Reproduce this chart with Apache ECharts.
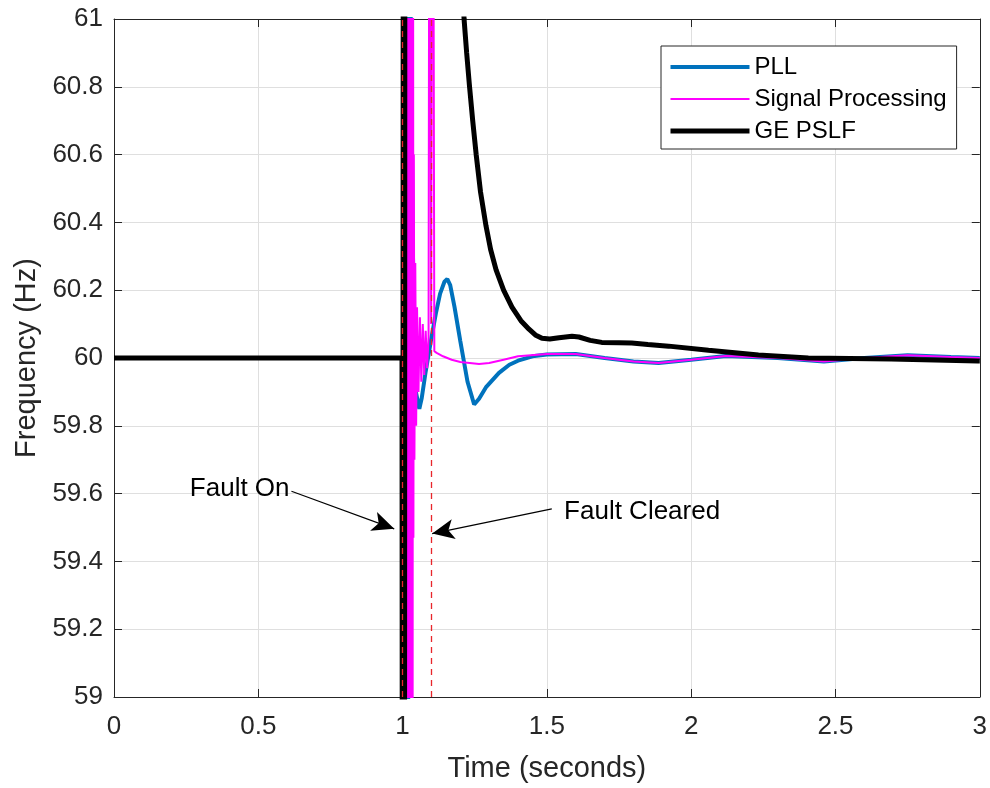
<!DOCTYPE html>
<html>
<head>
<meta charset="utf-8">
<script src="https://cdn.jsdelivr.net/npm/echarts@6/dist/echarts.min.js"></script>
<style>
html,body{margin:0;padding:0;background:#fff;overflow:hidden;}
#chart{width:990px;height:788px;}
</style>
</head>
<body>
<div id="chart"></div>
<script>
// ---- data (time in seconds, frequency in Hz) ----
const seriesNames = ['PLL', 'Signal Processing', 'GE PSLF'];

const pllData = [
  [0,60],[0.5,60],[0.998,60],[1.003,58.2],[1.01,61.8],[1.018,58.5],[1.026,61.2],[1.036,60.3],
  [1.046,59.9],[1.058,59.85],[1.066,59.88],[1.08,59.96],[1.1,60.06],
  [1.115,60.13],[1.13,60.19],[1.145,60.225],[1.155,60.233],[1.165,60.215],[1.18,60.15],
  [1.2,60.05],[1.225,59.93],[1.248,59.863],[1.265,59.88],[1.29,59.915],[1.334,59.956],
  [1.37,59.98],[1.4,59.992],[1.45,60.005],[1.5,60.01],[1.6,60.012],[1.7,60.0],[1.8,59.99],
  [1.887,59.985],[2.0,59.995],[2.12,60.006],[2.3,60.0],[2.46,59.99],[2.6,60.0],[2.75,60.008],
  [2.9,60.003],[3,60]
];

const spData = [
  [0,60],[0.5,60],[0.999,60],
  [1.0015,57.5],[1.003,62.5],[1.0045,57.5],[1.006,62.5],[1.0075,57.5],[1.009,62.5],[1.0105,57.5],
  [1.012,62.5],[1.0135,57.5],[1.015,62.5],[1.0165,57.5],[1.018,62.5],[1.0195,57.5],[1.021,62.5],
  [1.0225,57.5],[1.024,62.5],[1.0255,57.5],[1.027,62.5],[1.0285,57.5],[1.03,62.5],[1.0315,57.5],
  [1.033,62.5],[1.0345,58.0],[1.036,62.0],[1.0375,59.47],[1.039,60.6],[1.041,59.7],
  [1.044,60.28],[1.047,59.8],[1.05,60.15],[1.055,59.9],[1.06,60.12],[1.065,59.93],[1.07,60.1],
  [1.075,59.95],[1.08,60.08],[1.085,59.97],[1.09,60.06],[1.094,62.5],[1.099,60.1],[1.104,62.5],
  [1.11,60.02],[1.118,60.015],[1.14,60.005],[1.17,59.995],[1.2,59.988],[1.265,59.982],[1.3,59.985],
  [1.35,59.995],[1.4,60.005],[1.5,60.012],[1.6,60.012],[1.7,60.0],[1.8,59.99],[1.887,59.985],
  [2.0,59.995],[2.12,60.006],[2.3,60.0],[2.46,59.99],[2.6,60.0],[2.75,60.008],[2.9,60.003],[3,60]
];

const pslfData = [
  [0,60],[0.5,60],[0.998,60],[1.0,57.0],[1.003,63.0],[1.006,57.0],[1.009,64.0],[1.1,64.0],
  [1.17,62.2],[1.195,61.4],[1.213,61.0],[1.222,60.9],[1.231,60.81],[1.243,60.70],[1.255,60.60],
  [1.27,60.49],[1.289,60.39],[1.305,60.32],[1.324,60.26],[1.35,60.2],[1.379,60.15],[1.41,60.11],
  [1.438,60.085],[1.46,60.068],[1.483,60.058],[1.51,60.056],[1.542,60.06],[1.587,60.064],
  [1.611,60.062],[1.65,60.052],[1.69,60.046],[1.75,60.045],[1.794,60.044],[1.85,60.04],
  [1.922,60.035],[2.06,60.023],[2.233,60.009],[2.406,60.0],[2.693,59.997],[2.993,59.991],[3,59.991]
];

const faultTimes = [1.0, 1.1];
const annotTexts = ['Fault On', 'Fault Cleared'];
const annotTextPos = [[0.4355, 59.613], [1.830, 59.546]];
const arrowFrom = [[0.615, 59.607], [1.517, 59.555]];
const arrowTo = [[0.971, 59.496], [1.1026, 59.482]];

const xTicks = {min: 0, max: 3, interval: 0.5};
const yTicks = {min: 59, max: 61, interval: 0.2};

// ---- chart ----
const chart = echarts.init(document.getElementById('chart'), null, {renderer: 'canvas'});
const FONT = 'Liberation Sans, Arial, Helvetica, sans-serif';
const AX = '#262626';
const colors = ['#0072BD', '#FF00FF', '#000000'];
const widths = [4, 2, 5];

function baseX(pos, show) {
  return {
    type: 'value', position: pos, min: xTicks.min, max: xTicks.max, interval: xTicks.interval,
    axisLine: {show: true, onZero: false, lineStyle: {color: AX, width: 1}},
    axisTick: {show: true, inside: true, length: 8, lineStyle: {color: AX}},
    axisLabel: {show: show, color: AX, fontSize: 26, fontFamily: FONT, margin: 17},
    splitLine: {show: show, lineStyle: {color: '#dfdfdf', width: 1}}
  };
}
function baseY(pos, show) {
  return {
    type: 'value', position: pos, min: yTicks.min, max: yTicks.max, interval: yTicks.interval,
    axisLine: {show: true, onZero: false, lineStyle: {color: AX, width: 1}},
    axisTick: {show: true, inside: true, length: 8, lineStyle: {color: AX}},
    axisLabel: {show: show, color: AX, fontSize: 26, fontFamily: FONT, margin: 11},
    splitLine: {show: show, lineStyle: {color: '#dfdfdf', width: 1}}
  };
}

const x0 = baseX('bottom', true);
x0.name = 'Time (seconds)';
x0.nameLocation = 'middle';
x0.nameGap = 57;
x0.nameTextStyle = {color: AX, fontSize: 29, fontFamily: FONT};
const y0 = baseY('left', true);
y0.name = 'Frequency (Hz)';
y0.nameLocation = 'middle';
y0.nameGap = 72;
y0.nameTextStyle = {color: AX, fontSize: 29, fontFamily: FONT};

const option = {
  animation: false,
  backgroundColor: '#fff',
  grid: {left: 114, right: 8, top: 19, bottom: 83, containLabel: false},
  xAxis: [x0, baseX('top', false)],
  yAxis: [y0, baseY('right', false)],
  legend: {
    show: true, orient: 'vertical', left: 661, top: 46,
    data: seriesNames.map((n, i) => ({
      name: n,
      itemStyle: {opacity: 0, borderWidth: 0},
      lineStyle: {color: colors[i], width: widths[i], opacity: 1}
    })),
    backgroundColor: '#fff', borderColor: AX, borderWidth: 1,
    padding: [9, 10, 6, 7],
    itemWidth: 79, itemHeight: 14, itemGap: 8,
    textStyle: {color: '#000', fontSize: 24, fontFamily: FONT}
  },
  series: [
    {
      name: seriesNames[0], type: 'line', data: pllData, showSymbol: false, symbol: 'none',
      lineStyle: {color: colors[0], width: widths[0]}, itemStyle: {color: colors[0]}, z: 2, clip: true
    },
    {
      name: seriesNames[1], type: 'line', data: spData, showSymbol: false, symbol: 'none',
      lineStyle: {color: colors[1], width: widths[1]}, itemStyle: {color: colors[1]}, z: 3, clip: true
    },
    {
      name: seriesNames[2], type: 'line', data: pslfData, showSymbol: false, symbol: 'none',
      lineStyle: {color: colors[2], width: widths[2]}, itemStyle: {color: colors[2]}, z: 4, clip: true
    },
    {
      name: 'annot', type: 'line', data: [], z: 10, silent: true,
      markLine: {
        silent: true, animation: false,
        symbol: ['none', 'none'],
        label: {show: false},
        lineStyle: {color: '#e8262b', type: [6, 5], width: 1.3},
        data: faultTimes.map(t => ({xAxis: t}))
          .concat(arrowFrom.map((p, i) => [
            {coord: p, symbol: 'none', lineStyle: {color: '#000', type: 'solid', width: 1.2}},
            {coord: arrowTo[i], symbol: 'arrow', symbolSize: [15, 22]}
          ]))
      },
      markPoint: {
        silent: true, animation: false, symbol: 'circle', symbolSize: 0,
        label: {show: true, position: 'inside', color: '#000', fontSize: 26, fontFamily: FONT,
                formatter: p => p.name},
        data: annotTexts.map((s, i) => ({name: s, coord: annotTextPos[i], value: 0}))
      }
    }
  ]
};
chart.setOption(option);
</script>
</body>
</html>
